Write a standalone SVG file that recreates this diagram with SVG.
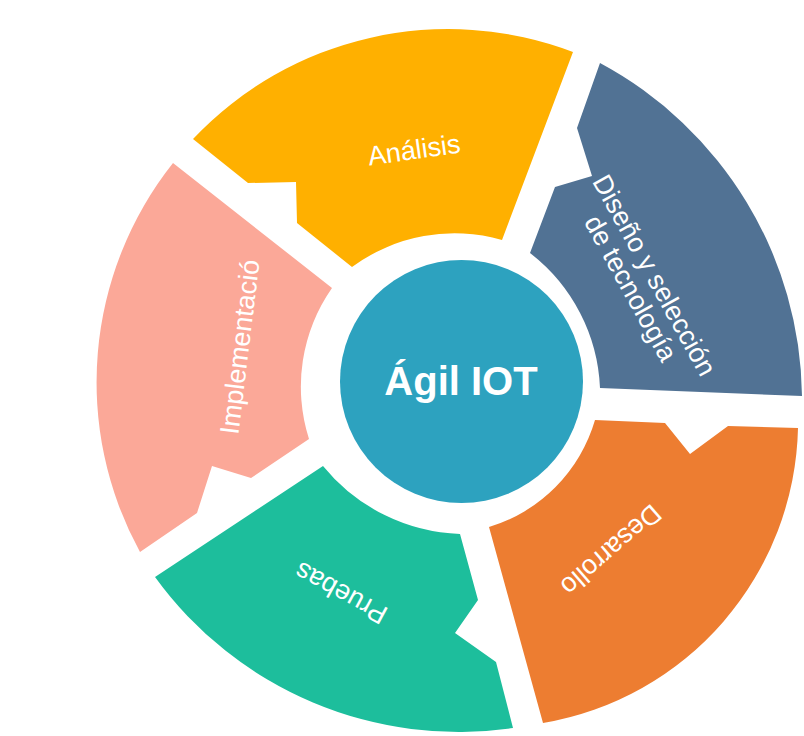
<svg xmlns="http://www.w3.org/2000/svg" width="804" height="736" viewBox="0 0 804 736">
  <style>
    .lbl { font-family: "Liberation Sans", Arial, sans-serif; font-size: 27px; fill: #FFFFFF; text-anchor: middle; }
    .center { font-family: "Liberation Sans", Arial, sans-serif; font-size: 40px; font-weight: bold; fill: #FFFFFF; text-anchor: middle; }
  </style>
  <rect width="804" height="736" fill="#FFFFFF"/>
  <g id="analisis">
    <path fill="#FFB000" d="M193,139 A351,351 0 0 1 573,52 L502,240 A173,173 0 0 0 352,267 L297,223 L296,182 L248,183 Z"/>
    <g transform="translate(414,150) rotate(-8)"><text class="lbl" x="0" y="9">Análisis</text></g>
  </g>
  <g id="diseno">
    <path fill="#517294" d="M600,63 A383,383 0 0 1 802,396 L600,388 A180,180 0 0 0 530,253 L555,187 L592,176 L577,128 Z"/>
    <g transform="translate(642,282) rotate(61)">
      <text class="lbl" x="0" y="-5">Diseño y selección</text>
      <text class="lbl" x="0" y="22">de tecnología</text>
    </g>
  </g>
  <g id="desarrollo">
    <path fill="#ED7D31" d="M798,428 A306,306 0 0 1 543,723 L489,527 A158,158 0 0 0 595,420 L665,423 L690,454 L728,426 Z"/>
    <g transform="translate(611,550) rotate(139)"><text class="lbl" x="0" y="9">Desarrollo</text></g>
  </g>
  <g id="pruebas">
    <path fill="#1DBE9C" d="M513,728 A375,375 0 0 1 155,577 L323,466 A185,185 0 0 0 460,534 L478,600 L455,633 L496,662 Z"/>
    <g transform="translate(341,593) rotate(208.5)"><text class="lbl" x="0" y="9">Pruebas</text></g>
  </g>
  <g id="implementacion">
    <path fill="#FBA898" d="M140,552 A353,353 0 0 1 173,163 L332,288 A172,172 0 0 0 309,439 L251,478 L212,466 L197,513 Z"/>
    <g transform="translate(240,347) rotate(-83)"><text class="lbl" x="0" y="9">Implementació</text></g>
  </g>
  <g id="agil-iot">
    <circle cx="461.5" cy="381.5" r="121.5" fill="#2DA2BF"/>
    <text class="center" x="461" y="395">Ágil IOT</text>
  </g>
</svg>
